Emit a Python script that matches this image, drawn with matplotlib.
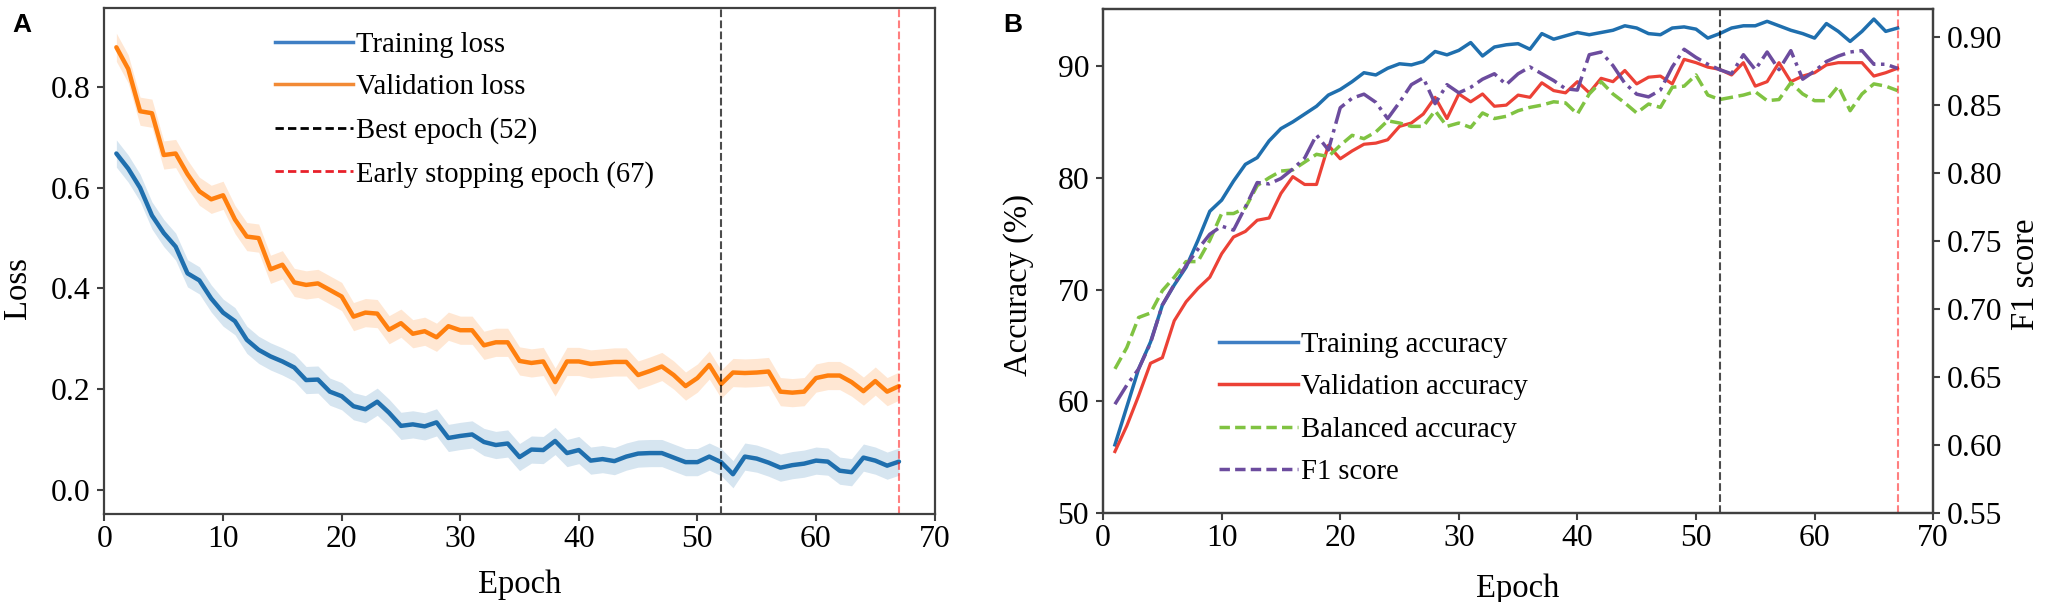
import numpy as np
import matplotlib
matplotlib.use("Agg")
import matplotlib.pyplot as plt
from matplotlib.lines import Line2D

# ---------------- data ----------------
epochs = list(range(1, 68))

train_loss = [0.668, 0.638, 0.600, 0.545, 0.510, 0.483, 0.430, 0.416, 0.380, 0.352,
              0.335, 0.298, 0.278, 0.265, 0.255, 0.243, 0.218, 0.219, 0.195, 0.186,
              0.166, 0.160, 0.175, 0.153, 0.127, 0.130, 0.126, 0.134, 0.103, 0.107,
              0.110, 0.095, 0.089, 0.092, 0.065, 0.080, 0.079, 0.097, 0.073, 0.079,
              0.058, 0.061, 0.057, 0.066, 0.072, 0.073, 0.073, 0.064, 0.055, 0.055,
              0.066, 0.055, 0.031, 0.066, 0.062, 0.054, 0.044, 0.049, 0.052, 0.058,
              0.056, 0.038, 0.035, 0.064, 0.058, 0.048, 0.056]

val_loss = [0.879, 0.836, 0.752, 0.748, 0.665, 0.668, 0.627, 0.593, 0.577, 0.585,
            0.537, 0.503, 0.500, 0.438, 0.447, 0.412, 0.407, 0.410, 0.397, 0.384,
            0.344, 0.352, 0.350, 0.318, 0.331, 0.310, 0.315, 0.303, 0.325, 0.317,
            0.317, 0.287, 0.293, 0.293, 0.256, 0.252, 0.255, 0.214, 0.255, 0.255,
            0.250, 0.252, 0.254, 0.254, 0.228, 0.236, 0.245, 0.228, 0.206, 0.222,
            0.248, 0.210, 0.233, 0.232, 0.233, 0.235, 0.195, 0.193, 0.195, 0.222,
            0.227, 0.227, 0.214, 0.196, 0.216, 0.195, 0.206]

train_loss_sd = 0.027
val_loss_sd = 0.028

train_acc = [56.1, 59.5, 62.9, 65.3, 68.6, 70.4, 72.0, 74.4, 77.0, 78.0,
             79.7, 81.2, 81.8, 83.3, 84.4, 85.0, 85.7, 86.4, 87.4, 87.9,
             88.6, 89.4, 89.2, 89.8, 90.2, 90.1, 90.4, 91.3, 91.0, 91.4,
             92.1, 90.9, 91.7, 91.9, 92.0, 91.5, 92.9, 92.4, 92.7, 93.0,
             92.8, 93.0, 93.2, 93.6, 93.4, 92.9, 92.8, 93.4, 93.5, 93.3,
             92.5, 92.9, 93.4, 93.6, 93.6, 94.0, 93.6, 93.2, 92.9, 92.5,
             93.8, 93.1, 92.2, 93.1, 94.2, 93.1, 93.4]

val_acc = [55.5, 57.8, 60.5, 63.4, 63.9, 67.2, 68.9, 70.1, 71.1, 73.2,
           74.7, 75.2, 76.2, 76.4, 78.6, 80.1, 79.4, 79.4, 82.9, 81.7,
           82.4, 83.0, 83.1, 83.4, 84.6, 84.9, 85.7, 87.2, 85.3, 87.5,
           86.8, 87.5, 86.4, 86.5, 87.4, 87.2, 88.5, 87.8, 87.6, 88.6,
           87.6, 88.9, 88.6, 89.6, 88.4, 89.0, 89.1, 88.4, 90.6, 90.3,
           89.9, 89.7, 89.2, 90.3, 88.2, 88.6, 90.3, 88.6, 89.1, 89.4,
           90.1, 90.3, 90.3, 90.3, 89.1, 89.4, 89.8]

balanced_acc = [62.9, 64.8, 67.5, 67.9, 69.9, 71.1, 72.5, 72.5, 74.4, 76.8,
                76.8, 77.3, 79.3, 80.0, 80.6, 80.7, 81.4, 82.1, 81.9, 82.9,
                83.8, 83.5, 84.1, 85.1, 84.9, 84.6, 84.6, 86.0, 84.6, 84.9,
                84.5, 85.8, 85.3, 85.5, 86.0, 86.3, 86.5, 86.8, 86.7, 85.7,
                87.5, 88.6, 87.5, 86.7, 85.8, 86.6, 86.3, 88.1, 88.2, 89.2,
                87.4, 87.0, 87.2, 87.4, 87.7, 86.9, 87.0, 88.5, 87.5, 86.9,
                86.9, 88.2, 86.0, 87.5, 88.4, 88.2, 87.8]

f1_score = [0.630, 0.644, 0.656, 0.675, 0.703, 0.718, 0.732, 0.744, 0.755, 0.761,
            0.758, 0.775, 0.793, 0.792, 0.796, 0.803, 0.811, 0.828, 0.817, 0.848,
            0.855, 0.858, 0.852, 0.840, 0.852, 0.865, 0.870, 0.851, 0.865, 0.859,
            0.863, 0.869, 0.873, 0.865, 0.873, 0.878, 0.873, 0.868, 0.862, 0.861,
            0.887, 0.889, 0.879, 0.866, 0.858, 0.856, 0.861, 0.878, 0.891, 0.885,
            0.880, 0.876, 0.873, 0.887, 0.876, 0.889, 0.876, 0.890, 0.869, 0.875,
            0.882, 0.886, 0.889, 0.890, 0.880, 0.880, 0.877]

best_epoch = 52
stop_epoch = 67

x_ticks = [0, 10, 20, 30, 40, 50, 60, 70]
loss_ticks = [0.0, 0.2, 0.4, 0.6, 0.8]
acc_ticks = [50, 60, 70, 80, 90]
f1_ticks = [0.55, 0.60, 0.65, 0.70, 0.75, 0.80, 0.85, 0.90]

# ---------------- style ----------------
SERIF = ["Liberation Serif", "DejaVu Serif"]
plt.rcParams['font.family'] = SERIF
plt.rcParams['axes.linewidth'] = 1.6
plt.rcParams['axes.edgecolor'] = '#404040'

TICK_FS = 22.8
LABEL_FS = 23.5
LEG_FS = 20.6

C_BLUE = '#1f6fae'
C_ORANGE = '#ff7f0e'
C_RED = '#ec4136'
C_GREEN = '#80c342'
C_PURPLE = '#6c4c9e'

fig = plt.figure(figsize=(20.45, 6.02), dpi=100)
axA = fig.add_axes([0.0511, 0.1462, 0.4059, 0.8405])
axB = fig.add_axes([0.5394, 0.1478, 0.4059, 0.8372])


def style_axis(ax):
    ax.tick_params(axis='both', which='major', labelsize=TICK_FS, length=5,
                   width=1.5, color='#404040', direction='out')
    ax.tick_params(axis='x', pad=3)
    ax.tick_params(axis='y', pad=5)


ep = np.array(epochs)

# ---------------- Panel A ----------------
tl = np.array(train_loss)
vl = np.array(val_loss)
axA.fill_between(ep, tl - train_loss_sd, tl + train_loss_sd, color=C_BLUE, alpha=0.18, lw=0)
axA.fill_between(ep, vl - val_loss_sd, vl + val_loss_sd, color=C_ORANGE, alpha=0.18, lw=0)
axA.plot(ep, tl, color=C_BLUE, lw=3.2, solid_capstyle='round', solid_joinstyle='round')
axA.plot(ep, vl, color=C_ORANGE, lw=3.2, solid_capstyle='round', solid_joinstyle='round')
axA.axvline(best_epoch, color='black', ls='--', lw=1.5, alpha=0.7)
axA.axvline(stop_epoch, color='red', ls='--', lw=1.5, alpha=0.5)
axA.set_xlim(0, 70)
axA.set_ylim(-0.048, 0.957)
axA.set_xticks(x_ticks)
axA.set_yticks(loss_ticks)
axA.set_yticklabels([f"{v:.1f}" for v in loss_ticks])
style_axis(axA)
axA.set_xlabel("Epoch", fontsize=LABEL_FS)
axA.set_ylabel("Loss", fontsize=LABEL_FS)
axA.xaxis.set_label_coords(0.5, -0.156)
axA.xaxis.label.set_va('baseline')
axA.yaxis.set_label_coords(-0.104, 0.447)
axA.yaxis.label.set_va('center')

legA_handles = [
    Line2D([], [], color='#3f7fc4', lw=2.5),
    Line2D([], [], color='#f28a35', lw=2.5),
    Line2D([], [], color='black', lw=2.0, ls=(0, (3, 1.5))),
    Line2D([], [], color='#e8202a', lw=2.0, ls=(0, (3, 1.5))),
]
legA_labels = ["Training loss", "Validation loss", "Best epoch (52)", "Early stopping epoch (67)"]
axA.legend(legA_handles, legA_labels, loc='upper left', bbox_to_anchor=(0.205, 0.953),
           frameon=False, fontsize=LEG_FS, handlelength=2.75, handletextpad=0.1,
           labelspacing=0.58, borderpad=0, borderaxespad=0)

# ---------------- Panel B ----------------
axB2 = axB.twinx()
axB.plot(ep, train_acc, color=C_BLUE, lw=2.5)
axB.plot(ep, val_acc, color=C_RED, lw=2.3)
axB.plot(ep, balanced_acc, color=C_GREEN, lw=2.5, ls='--')
axB2.plot(ep, f1_score, color=C_PURPLE, lw=2.5, ls='-.')
axB.axvline(best_epoch, color='black', ls='--', lw=1.5, alpha=0.7)
axB.axvline(stop_epoch, color='red', ls='--', lw=1.5, alpha=0.5)
axB.set_xlim(0, 70)
axB.set_ylim(50, 95.1)
axB2.set_ylim(0.55, 0.9206)
axB.set_xticks(x_ticks)
axB.set_yticks(acc_ticks)
axB2.set_yticks(f1_ticks)
axB2.set_yticklabels([f"{v:.2f}" for v in f1_ticks])
style_axis(axB)
style_axis(axB2)
axB.set_xlabel("Epoch", fontsize=LABEL_FS)
axB.set_ylabel("Accuracy (%)", fontsize=LABEL_FS)
axB2.set_ylabel("F1 score", fontsize=LABEL_FS)
axB.xaxis.set_label_coords(0.5, -0.166)
axB.xaxis.label.set_va('baseline')
axB.yaxis.set_label_coords(-0.102, 0.452)
axB.yaxis.label.set_va('center')
axB2.yaxis.set_label_coords(1.112, 0.473)
axB2.yaxis.label.set_va('center')

legB_handles = [
    Line2D([], [], color='#3f7fc4', lw=2.5),
    Line2D([], [], color=C_RED, lw=2.5),
    Line2D([], [], color=C_GREEN, lw=2.5, ls=(0, (3, 1.5))),
    Line2D([], [], color=C_PURPLE, lw=2.5, ls=(0, (3, 1.5))),
]
legB_labels = ["Training accuracy", "Validation accuracy", "Balanced accuracy", "F1 score"]
axB.legend(legB_handles, legB_labels, loc='upper left', bbox_to_anchor=(0.14, 0.36),
           frameon=False, fontsize=LEG_FS, handlelength=2.75, handletextpad=0.1,
           labelspacing=0.58, borderpad=0, borderaxespad=0)

# panel letters
fig.text(12 / 2045, 1 - 32 / 602, "A", fontsize=19, fontweight='bold',
         family=["Liberation Sans", "DejaVu Sans"], va='baseline', ha='left')
fig.text(1003 / 2045, 1 - 32 / 602, "B", fontsize=19, fontweight='bold',
         family=["Liberation Sans", "DejaVu Sans"], va='baseline', ha='left')

fig.savefig("out.png", dpi=100)
